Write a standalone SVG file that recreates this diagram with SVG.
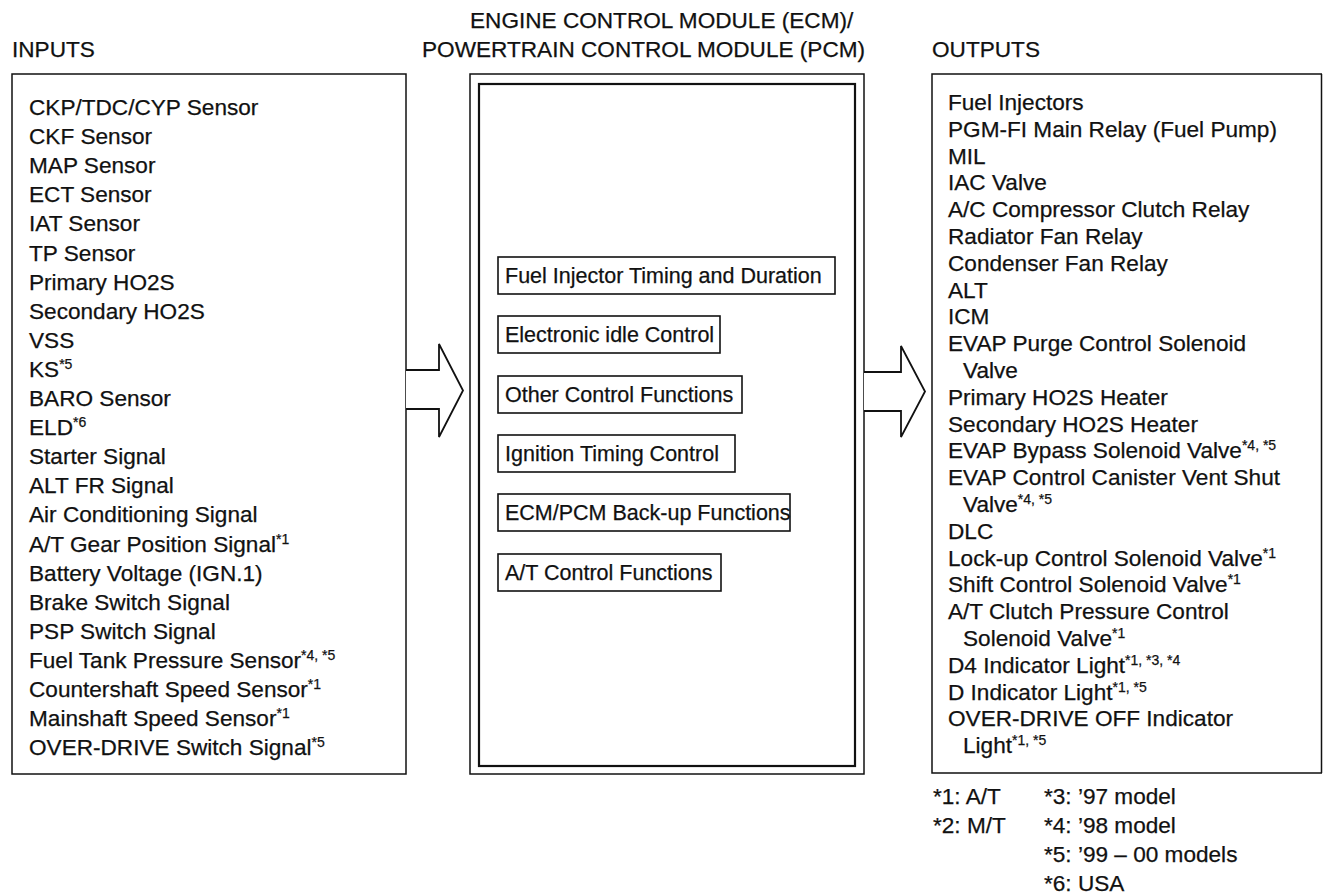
<svg xmlns="http://www.w3.org/2000/svg" width="1323" height="895" viewBox="0 0 1323 895">
<style>
text{font-family:"Liberation Sans",Arial,Helvetica,sans-serif;font-size:22.6px;fill:#111;stroke:#111;stroke-width:0.25}
.sup{font-size:14px}
.fnt{font-size:21.5px}
.box{fill:#fff;stroke:#111;stroke-width:1.5}
.inner{fill:#fff;stroke:#111;stroke-width:2.2}
.fn{fill:#fff;stroke:#111;stroke-width:1.6}
.arrow{fill:#fff;stroke:#111;stroke-width:1.8;stroke-linejoin:miter}
</style>
<rect width="1323" height="895" fill="#fff"/>
<g id="headers">
<text x="12" y="57">INPUTS</text>
<text x="470" y="28">ENGINE CONTROL MODULE (ECM)/</text>
<text x="422" y="57">POWERTRAIN CONTROL MODULE (PCM)</text>
<text x="932" y="57">OUTPUTS</text>
</g>
<g id="inputs">
<rect class="box" x="12" y="74" width="394" height="700"/>
<text x="29" y="115">CKP/TDC/CYP Sensor</text>
<text x="29" y="144.1">CKF Sensor</text>
<text x="29" y="173.2">MAP Sensor</text>
<text x="29" y="202.3">ECT Sensor</text>
<text x="29" y="231.4">IAT Sensor</text>
<text x="29" y="260.5">TP Sensor</text>
<text x="29" y="289.6">Primary HO2S</text>
<text x="29" y="318.7">Secondary HO2S</text>
<text x="29" y="347.8">VSS</text>
<text x="29" y="376.9">KS<tspan class="sup" dy="-8">*5</tspan></text>
<text x="29" y="406">BARO Sensor</text>
<text x="29" y="435.1">ELD<tspan class="sup" dy="-8">*6</tspan></text>
<text x="29" y="464.2">Starter Signal</text>
<text x="29" y="493.3">ALT FR Signal</text>
<text x="29" y="522.4">Air Conditioning Signal</text>
<text x="29" y="551.5">A/T Gear Position Signal<tspan class="sup" dy="-8">*1</tspan></text>
<text x="29" y="580.6">Battery Voltage (IGN.1)</text>
<text x="29" y="609.7">Brake Switch Signal</text>
<text x="29" y="638.8">PSP Switch Signal</text>
<text x="29" y="667.9">Fuel Tank Pressure Sensor<tspan class="sup" dy="-8">*4, *5</tspan></text>
<text x="29" y="697">Countershaft Speed Sensor<tspan class="sup" dy="-8">*1</tspan></text>
<text x="29" y="726.1">Mainshaft Speed Sensor<tspan class="sup" dy="-8">*1</tspan></text>
<text x="29" y="755.2">OVER-DRIVE Switch Signal<tspan class="sup" dy="-8">*5</tspan></text>
</g>
<g id="ecm">
<rect class="box" x="470" y="74" width="394" height="700"/>
<rect class="inner" x="479" y="84" width="376" height="682"/>
</g>
<g id="fn-fuel"><rect class="fn" x="498" y="257" width="337" height="37"/><text class="fnt" x="505" y="283">Fuel Injector Timing and Duration</text></g>
<g id="fn-idle"><rect class="fn" x="498" y="316" width="222" height="37"/><text class="fnt" x="505" y="342">Electronic idle Control</text></g>
<g id="fn-other"><rect class="fn" x="498" y="376" width="244" height="37"/><text class="fnt" x="505" y="402">Other Control Functions</text></g>
<g id="fn-ign"><rect class="fn" x="498" y="435" width="237" height="37"/><text class="fnt" x="505" y="461">Ignition Timing Control</text></g>
<g id="fn-backup"><rect class="fn" x="498" y="494" width="292" height="37"/><text class="fnt" x="505" y="520">ECM/PCM Back-up Functions</text></g>
<g id="fn-at"><rect class="fn" x="498" y="554" width="223" height="37"/><text class="fnt" x="505" y="580">A/T Control Functions</text></g>
<g id="outputs">
<path class="box" d="M1322,74 H932 V773 H1322"/>
<line x1="1321.5" y1="74" x2="1321.5" y2="773" stroke="#111" stroke-width="1.5"/>
<text x="948" y="110">Fuel Injectors</text>
<text x="948" y="136.8">PGM-FI Main Relay (Fuel Pump)</text>
<text x="948" y="163.6">MIL</text>
<text x="948" y="190.4">IAC Valve</text>
<text x="948" y="217.2">A/C Compressor Clutch Relay</text>
<text x="948" y="244">Radiator Fan Relay</text>
<text x="948" y="270.8">Condenser Fan Relay</text>
<text x="948" y="297.6">ALT</text>
<text x="948" y="324.4">ICM</text>
<text x="948" y="351.2">EVAP Purge Control Solenoid</text>
<text x="963" y="378">Valve</text>
<text x="948" y="404.8">Primary HO2S Heater</text>
<text x="948" y="431.6">Secondary HO2S Heater</text>
<text x="948" y="458.4">EVAP Bypass Solenoid Valve<tspan class="sup" dy="-8">*4, *5</tspan></text>
<text x="948" y="485.2">EVAP Control Canister Vent Shut</text>
<text x="963" y="512">Valve<tspan class="sup" dy="-8">*4, *5</tspan></text>
<text x="948" y="538.8">DLC</text>
<text x="948" y="565.6">Lock-up Control Solenoid Valve<tspan class="sup" dy="-8">*1</tspan></text>
<text x="948" y="592.4">Shift Control Solenoid Valve<tspan class="sup" dy="-8">*1</tspan></text>
<text x="948" y="619.2">A/T Clutch Pressure Control</text>
<text x="963" y="646">Solenoid Valve<tspan class="sup" dy="-8">*1</tspan></text>
<text x="948" y="672.8">D4 Indicator Light<tspan class="sup" dy="-8">*1, *3, *4</tspan></text>
<text x="948" y="699.6">D Indicator Light<tspan class="sup" dy="-8">*1, *5</tspan></text>
<text x="948" y="726.4">OVER-DRIVE OFF Indicator</text>
<text x="963" y="753.2">Light<tspan class="sup" dy="-8">*1, *5</tspan></text>
</g>
<g id="footnotes">
<text x="933" y="804">*1: A/T</text>
<text x="933" y="833">*2: M/T</text>
<text x="1044" y="804">*3: ’97 model</text>
<text x="1044" y="833">*4: ’98 model</text>
<text x="1044" y="862">*5: ’99 – 00 models</text>
<text x="1044" y="891">*6: USA</text>
</g>
<g id="connectors">
<path class="arrow" d="M406,370 H439 V344 L463,390.5 L439,437 V409 H406"/>
<path class="arrow" d="M864,372 H901 V346 L925,391.5 L901,437 V411 H864"/>
</g>
</svg>
